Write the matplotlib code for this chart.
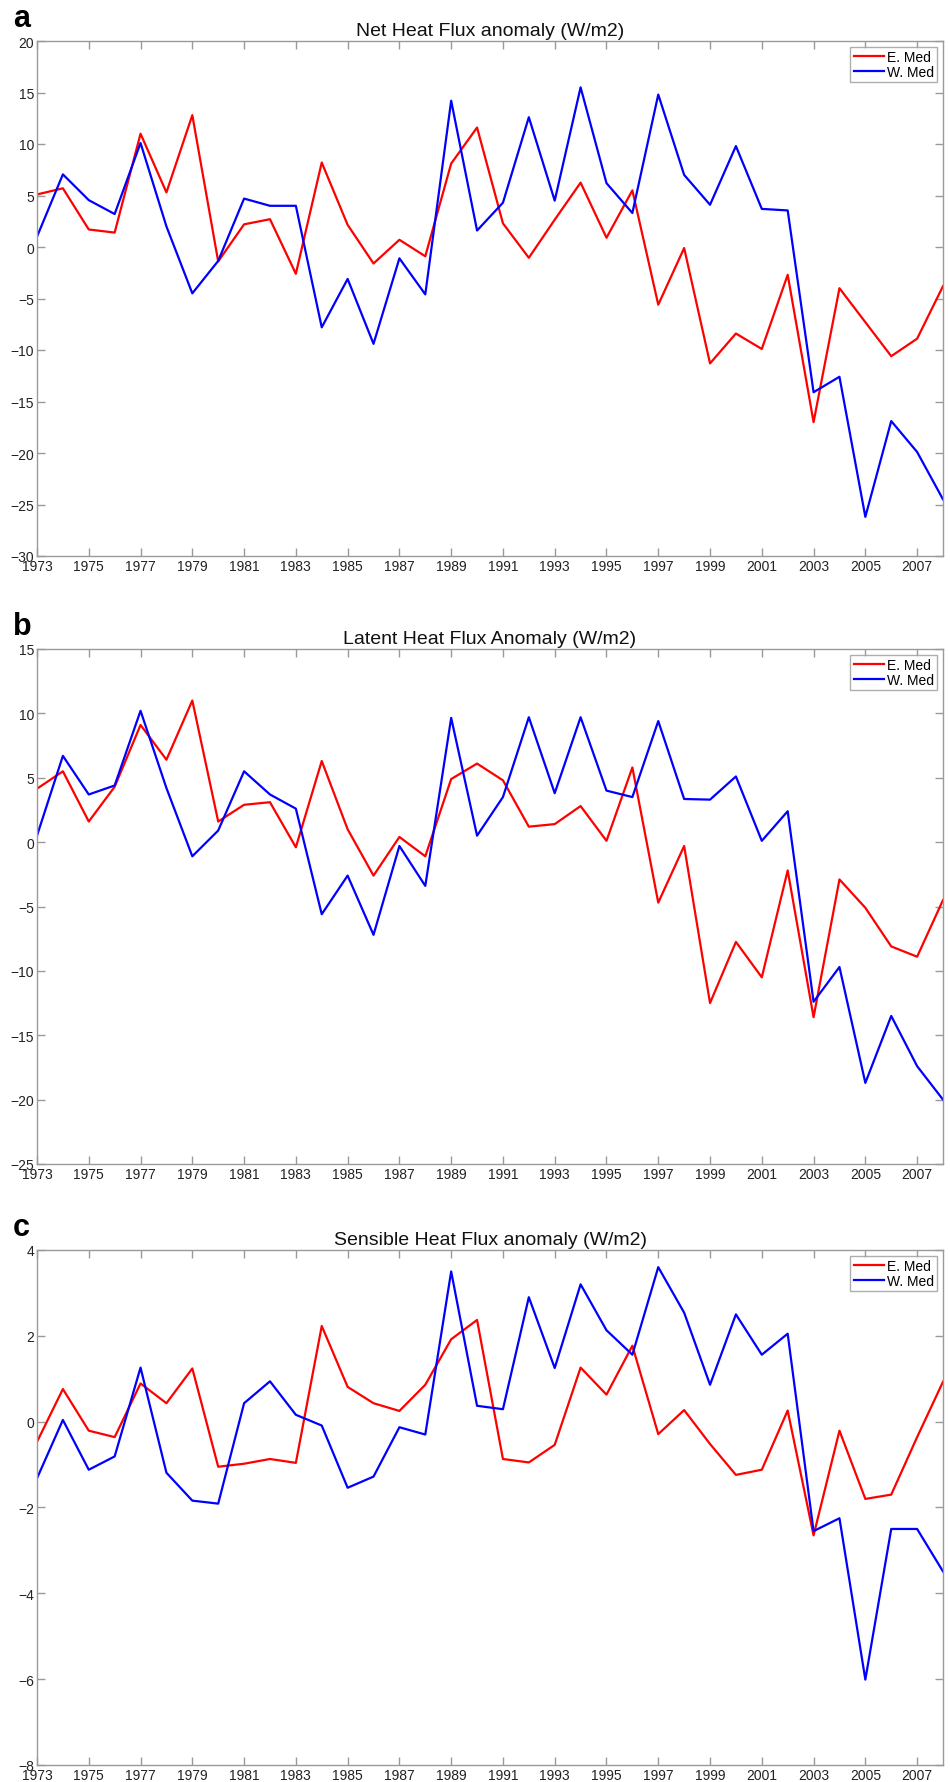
import numpy as np
import matplotlib.pyplot as plt

plt.rcParams['font.family'] = ['Liberation Sans', 'DejaVu Sans']

years = np.arange(1973, 2009)

# a: net heat flux anomaly (W/m2)
net_east = [5.1, 5.7, 1.7, 1.4, 11.0, 5.3, 12.8, -1.4, 2.2, 2.7, -2.6, 8.2,
            2.15, -1.6, 0.7, -0.9, 8.1, 11.6, 2.3, -1.05, 2.65, 6.25, 0.9, 5.5,
            -5.6, -0.1, -11.3, -8.4, -9.9, -2.7, -17.0, -4.0, -7.3, -10.6, -8.9, -3.8]
net_west = [1.0, 7.05, 4.55, 3.2, 10.1, 2.0, -4.5, -1.35, 4.7, 4.0, 4.0, -7.8,
            -3.1, -9.4, -1.1, -4.6, 14.2, 1.6, 4.3, 12.6, 4.5, 15.5, 6.2, 3.3,
            14.8, 7.0, 4.1, 9.8, 3.7, 3.55, -14.1, -12.6, -26.2, -16.9, -19.9, -24.5]

# b: latent heat flux anomaly (W/m2)
lat_east = [4.15, 5.5, 1.6, 4.3, 9.1, 6.4, 11.0, 1.6, 2.9, 3.1, -0.4, 6.3,
            1.0, -2.6, 0.4, -1.1, 4.9, 6.1, 4.8, 1.2, 1.4, 2.8, 0.1, 5.8,
            -4.7, -0.3, -12.5, -7.75, -10.5, -2.2, -13.6, -2.9, -5.1, -8.1, -8.9, -4.5]
lat_west = [0.5, 6.7, 3.7, 4.4, 10.2, 4.2, -1.1, 0.9, 5.5, 3.7, 2.6, -5.6,
            -2.6, -7.2, -0.3, -3.4, 9.65, 0.5, 3.5, 9.7, 3.8, 9.7, 4.0, 3.5,
            9.4, 3.35, 3.3, 5.1, 0.1, 2.4, -12.4, -9.7, -18.7, -13.5, -17.4, -20.0]

# c: sensible heat flux anomaly (W/m2)
sen_east = [-0.47, 0.76, -0.21, -0.36, 0.89, 0.43, 1.24, -1.05, -0.98, -0.87, -0.96, 2.23,
            0.81, 0.43, 0.25, 0.86, 1.92, 2.37, -0.87, -0.95, -0.54, 1.26, 0.63, 1.77,
            -0.29, 0.27, -0.52, -1.24, -1.12, 0.26, -2.65, -0.21, -1.80, -1.70, -0.36, 0.93]
sen_west = [-1.32, 0.04, -1.12, -0.81, 1.26, -1.19, -1.84, -1.91, 0.43, 0.94, 0.16, -0.09,
            -1.54, -1.28, -0.13, -0.30, 3.5, 0.37, 0.29, 2.9, 1.25, 3.2, 2.13, 1.56,
            3.6, 2.54, 0.86, 2.50, 1.56, 2.05, -2.55, -2.25, -6.01, -2.50, -2.50, -3.49]

panel_letters = ['a', 'b', 'c']
panel_titles = ['Net Heat Flux anomaly (W/m2)',
                'Latent Heat Flux Anomaly (W/m2)',
                'Sensible Heat Flux anomaly (W/m2)']
series_names = ['E. Med', 'W. Med']

W, H = 950, 1783
fig = plt.figure(figsize=(W / 100, H / 100), dpi=100)

panels = [
    (net_east, net_west, (-30, 20), 5, 557),
    (lat_east, lat_west, (-25, 15), 5, 1165),
    (sen_east, sen_west, (-8, 4), 2, 1766),
]
ax_h = 515
ax_left, ax_right = 37, 943
grey = '#9a9a9a'

for i, (east, west, ylim, ystep, bottom_px) in enumerate(panels):
    ax = fig.add_axes([ax_left / W, 1 - bottom_px / H, (ax_right - ax_left) / W, ax_h / H])
    ax.plot(years, east, color='#ff0000', lw=1.6, label=series_names[0])
    ax.plot(years, west, color='#0000ff', lw=1.6, label=series_names[1])

    ax.set_xlim(1973, 2008)
    ax.set_ylim(*ylim)
    ax.set_xticks(np.arange(1973, 2008, 2))
    ax.set_yticks(np.arange(ylim[0], ylim[1] + 0.1, ystep))
    ax.tick_params(direction='in', top=True, right=True, length=6, width=1,
                   color=grey, labelcolor='#222222', labelsize=10, pad=2)
    for sp in ax.spines.values():
        sp.set_color(grey)
        sp.set_linewidth(1)

    ax.set_title(panel_titles[i], fontsize=14, color='#111111', pad=4)
    leg = ax.legend(loc='upper right', fontsize=10, frameon=True, fancybox=False,
                    edgecolor=grey, borderpad=0.25, labelspacing=0.05,
                    handlelength=2.2, handletextpad=0.2, borderaxespad=0.4)
    leg.get_frame().set_linewidth(1)

    top_px = bottom_px - ax_h
    fig.text(13 / W, 1 - (top_px - 15) / H, panel_letters[i], fontsize=22,
             fontweight='bold', ha='left', va='baseline')

fig.savefig('out.png', dpi=100)
